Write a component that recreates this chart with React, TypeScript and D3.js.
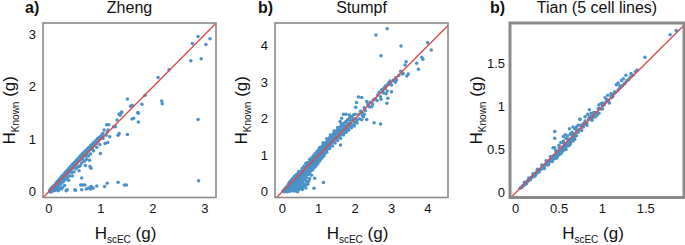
import React from "react";
import * as d3 from "d3";

// ---------- data ----------
const panelLetters = ["a)", "b)", "b)"];
const panelTitles = ["Zheng", "Stumpf", "Tian (5 cell lines)"];

const zhengTicks = [0, 1, 2, 3];
const stumpfTicks = [0, 1, 2, 3, 4];
const tianTicks = [0, 0.5, 1, 1.5];

const zhengDomainX = [-0.115, 3.215];
const zhengDomainY = [-0.11, 3.22];
const stumpfDomainX = [-0.2, 4.55];
const stumpfDomainY = [-0.16, 4.62];
const tianDomainX = [-0.066, 1.94];
const tianDomainY = [-0.056, 1.966];

const zhengPoints: [number, number][] = [
  [2.87, 2.96], [2.76, 2.83], [3.10, 2.92], [3.02, 2.81], [2.73, 2.50], [2.93, 2.54], [2.31, 2.33], [2.10, 2.18],
  [1.85, 1.84], [1.51, 1.77], [1.79, 1.67], [1.71, 1.51], [1.72, 1.33], [2.17, 1.73], [2.18, 1.68], [2.87, 1.38],
  [2.88, 0.21], [1.57, 1.63], [1.60, 1.65], [1.40, 1.52], [1.35, 1.48], [1.37, 1.46], [1.31, 1.37], [1.51, 1.09],
  [1.33, 1.08], [1.35, 1.11], [1.28, 1.24], [1.11, 1.28], [1.14, 1.18], [1.12, 1.14], [1.06, 1.18], [1.04, 1.11],
  [1.10, 1.08], [1.17, 1.05], [1.03, 1.05], [0.99, 0.73], [1.08, 0.92], [1.13, 0.94], [1.60, 1.39], [1.63, 1.40],
  [1.72, 1.50], [1.24, 1.24], [1.15, 1.28], [1.40, 1.51], [1.37, 1.49],
  [0.01, 0.02], [0.02, 0.00], [0.03, 0.05], [0.04, 0.02], [0.05, 0.07], [0.06, 0.03], [0.07, 0.09], [0.08, 0.05],
  [0.09, 0.11], [0.10, 0.07], [0.11, 0.13], [0.12, 0.09], [0.13, 0.15], [0.14, 0.12], [0.15, 0.18], [0.16, 0.14],
  [0.17, 0.20], [0.18, 0.16], [0.19, 0.22], [0.20, 0.18], [0.21, 0.25], [0.22, 0.21], [0.23, 0.27], [0.24, 0.23],
  [0.25, 0.30], [0.26, 0.25], [0.27, 0.31], [0.28, 0.27], [0.29, 0.34], [0.30, 0.30], [0.31, 0.36], [0.32, 0.31],
  [0.33, 0.38], [0.34, 0.33], [0.35, 0.40], [0.36, 0.35], [0.37, 0.43], [0.38, 0.37], [0.39, 0.45], [0.40, 0.40],
  [0.41, 0.47], [0.42, 0.42], [0.43, 0.49], [0.44, 0.44], [0.45, 0.52], [0.46, 0.46], [0.47, 0.54], [0.48, 0.48],
  [0.49, 0.56], [0.50, 0.51], [0.52, 0.59], [0.53, 0.54], [0.55, 0.62], [0.56, 0.57], [0.58, 0.66], [0.59, 0.60],
  [0.61, 0.69], [0.62, 0.63], [0.64, 0.72], [0.65, 0.66], [0.67, 0.75], [0.68, 0.69], [0.70, 0.78], [0.72, 0.73],
  [0.74, 0.82], [0.75, 0.76], [0.77, 0.85], [0.79, 0.80], [0.81, 0.89], [0.83, 0.84], [0.85, 0.93], [0.87, 0.88],
  [0.89, 0.97], [0.91, 0.92], [0.93, 1.01], [0.95, 0.97], [0.97, 1.04], [1.00, 1.06], [1.02, 1.09], [1.04, 1.02],
  [0.10, 0.03], [0.15, 0.08], [0.18, 0.10], [0.22, 0.14], [0.25, 0.17], [0.28, 0.20], [0.32, 0.24], [0.35, 0.27],
  [0.40, 0.30], [0.44, 0.36], [0.48, 0.38], [0.52, 0.44], [0.55, 0.47], [0.60, 0.50], [0.63, 0.55], [0.68, 0.58],
  [0.72, 0.62], [0.76, 0.68], [0.80, 0.72], [0.86, 0.78], [0.92, 0.85], [0.98, 0.90], [0.58, 0.40], [0.45, 0.30],
  [0.70, 0.50], [0.78, 0.60], [0.38, 0.22], [0.30, 0.12], [0.26, 0.08], [0.20, 0.05],
  [0.12, 0.03], [0.15, 0.04], [0.18, 0.02], [0.21, 0.07], [0.24, 0.05], [0.33, 0.02], [0.35, 0.04], [0.50, 0.04],
  [0.51, 0.03], [0.61, 0.13], [0.63, 0.04], [0.63, 0.26], [0.65, 0.13], [0.69, 0.13], [0.72, 0.05], [0.76, 0.07],
  [0.80, 0.05], [0.81, 0.10], [0.83, 0.07], [0.85, 0.07], [0.92, 0.11], [1.07, 0.10], [1.12, 0.16], [1.33, 0.18],
  [1.45, 0.13], [1.49, 0.13], [0.58, 0.48], [0.79, 0.48], [0.81, 0.45], [0.05, 0.00], [0.08, 0.02], [0.03, 0.00],
  [0.06, 0.01],
  [0.05, 0.04], [0.10, 0.12], [0.15, 0.15], [0.20, 0.23], [0.25, 0.26], [0.30, 0.33], [0.35, 0.37], [0.40, 0.44],
  [0.45, 0.48], [0.50, 0.55], [0.55, 0.58], [0.60, 0.65], [0.65, 0.70], [0.70, 0.74], [0.75, 0.80], [0.80, 0.85],
  [0.85, 0.89], [0.90, 0.95], [0.95, 1.00], [1.00, 1.02], [0.64, 0.62], [0.72, 0.68], [0.84, 0.80],
];

const stumpfPoints: [number, number][] = [
  [0.02, 0.01], [0.04, 0.03], [0.05, 0.00], [0.06, 0.05], [0.07, 0.02], [0.08, 0.08], [0.09, 0.04], [0.10, 0.01],
  [0.10, 0.10], [0.11, 0.06], [0.12, 0.13], [0.12, 0.03], [0.13, 0.09], [0.14, 0.15], [0.14, 0.00], [0.15, 0.06],
  [0.16, 0.12], [0.16, 0.18], [0.17, 0.02], [0.18, 0.09], [0.18, 0.22], [0.19, 0.15], [0.20, 0.05], [0.20, 0.26],
  [0.21, 0.11], [0.22, 0.19], [0.22, 0.01], [0.23, 0.28], [0.24, 0.08], [0.24, 0.15], [0.25, 0.22], [0.25, 0.32],
  [0.26, 0.03], [0.27, 0.12], [0.27, 0.27], [0.28, 0.18], [0.28, 0.35], [0.29, 0.07], [0.30, 0.24], [0.30, 0.30],
  [0.31, 0.14], [0.31, 0.38], [0.32, 0.02], [0.33, 0.20], [0.33, 0.33], [0.34, 0.10], [0.34, 0.42], [0.35, 0.27],
  [0.36, 0.16], [0.36, 0.37], [0.37, 0.05], [0.38, 0.22], [0.38, 0.45], [0.39, 0.31], [0.40, 0.12], [0.40, 0.40],
  [0.41, 0.26], [0.42, 0.48], [0.42, 0.18], [0.43, 0.35], [0.44, 0.08], [0.44, 0.43], [0.45, 0.29], [0.46, 0.51],
  [0.46, 0.21], [0.47, 0.38], [0.48, 0.14], [0.48, 0.46], [0.49, 0.32], [0.50, 0.55], [0.50, 0.25], [0.51, 0.42],
  [0.52, 0.18], [0.52, 0.50], [0.53, 0.35], [0.54, 0.58], [0.55, 0.28], [0.55, 0.46], [0.56, 0.12], [0.57, 0.53],
  [0.58, 0.38], [0.58, 0.62], [0.59, 0.22], [0.60, 0.48], [0.61, 0.57], [0.62, 0.32], [0.62, 0.66], [0.63, 0.44],
  [0.64, 0.18], [0.65, 0.60], [0.65, 0.52], [0.66, 0.70], [0.67, 0.38], [0.68, 0.64], [0.69, 0.27], [0.69, 0.56],
  [0.70, 0.74], [0.71, 0.47], [0.72, 0.68], [0.73, 0.60], [0.74, 0.78], [0.75, 0.36], [0.75, 0.52], [0.76, 0.72],
  [0.77, 0.64], [0.78, 0.82], [0.79, 0.57], [0.80, 0.76], [0.80, 0.45], [0.81, 0.86], [0.82, 0.68], [0.83, 0.79],
  [0.84, 0.60], [0.85, 0.90], [0.86, 0.73], [0.87, 0.84], [0.88, 0.66], [0.89, 0.94], [0.90, 0.78], [0.91, 0.88],
  [0.92, 0.70], [0.93, 0.98], [0.94, 0.83], [0.95, 0.92], [0.96, 1.02], [0.97, 0.76], [0.98, 0.88], [0.99, 0.96],
  [1.00, 1.06], [1.01, 0.82], [1.02, 0.93], [1.03, 1.01], [1.04, 1.10], [1.05, 0.88], [1.06, 0.98], [1.07, 1.14],
  [1.08, 1.05], [1.09, 0.92], [1.10, 1.18], [1.11, 1.02], [1.12, 1.10], [1.13, 1.22], [1.14, 0.98], [1.15, 1.14],
  [1.16, 1.25], [1.17, 1.06], [1.18, 1.19], [1.19, 1.29], [1.20, 1.10], [1.21, 1.22], [1.22, 1.32], [1.23, 1.15],
  [1.24, 1.26], [1.25, 1.36], [1.26, 1.20], [1.27, 1.30], [1.28, 1.40], [1.29, 1.24], [1.30, 1.34], [1.31, 1.43],
  [1.32, 1.28], [1.33, 1.37], [1.34, 1.46], [1.35, 1.32], [1.36, 1.41], [1.37, 1.50], [1.38, 1.36], [1.40, 1.45],
  [1.41, 1.53], [1.42, 1.40], [1.44, 1.49], [1.45, 1.57], [1.46, 1.44], [1.48, 1.53], [1.50, 1.60], [1.51, 1.48],
  [1.53, 1.57], [1.55, 1.64], [1.56, 1.52], [1.58, 1.61], [1.60, 1.68], [1.62, 1.56], [1.64, 1.66], [1.66, 1.72],
  [1.68, 1.60], [1.70, 1.70], [1.72, 1.77], [1.74, 1.65], [1.76, 1.74], [1.78, 1.82], [1.80, 1.70], [1.83, 1.79],
  [1.85, 1.88], [1.88, 1.76], [1.90, 1.84], [1.93, 1.95], [1.96, 1.82], [1.99, 1.90], [2.02, 2.00], [2.05, 1.88],
  [1.13, 0.25], [0.87, 0.09], [0.89, 0.37], [0.67, 0.27], [0.73, 0.29], [1.60, 1.28],
  [0.45, 0.05], [0.50, 0.10], [0.55, 0.06], [0.60, 0.15], [0.65, 0.10], [0.70, 0.20], [0.38, 0.02], [0.42, 0.00],
  [1.68, 2.12], [1.75, 2.12], [1.84, 2.10], [1.63, 2.01], [1.59, 1.92], [1.72, 1.80], [1.81, 1.87], [1.86, 1.96],
  [1.95, 2.00], [2.23, 2.05], [2.18, 1.97], [2.32, 1.98], [2.18, 2.58], [2.09, 2.59], [2.04, 2.44], [2.02, 2.31],
  [2.32, 2.47], [2.36, 2.35], [2.50, 2.51], [2.46, 2.33], [2.52, 1.89], [2.70, 1.85],
  [2.10, 2.12], [2.15, 2.20], [2.20, 2.15], [2.25, 2.30], [2.28, 2.22], [2.35, 2.40], [2.40, 2.32], [2.42, 2.45],
  [2.48, 2.40], [2.55, 2.55], [2.60, 2.50], [2.62, 2.65], [2.66, 2.72], [2.70, 2.60], [2.75, 2.78], [2.78, 2.70],
  [2.80, 2.85], [2.84, 2.90], [2.88, 2.76], [2.92, 2.94], [2.95, 3.00], [3.00, 2.92], [3.05, 3.05], [3.10, 3.00],
  [3.12, 3.12], [3.20, 3.18], [3.25, 3.30], [3.30, 3.22], [2.96, 3.03], [2.91, 2.97], [2.82, 2.83], [2.73, 2.79],
  [2.77, 2.71], [3.00, 2.74], [2.85, 2.68], [2.90, 2.56], [2.71, 2.53], [2.87, 2.42],
  [2.88, 4.46], [2.57, 4.29], [2.71, 3.72], [3.26, 3.99], [3.99, 4.08], [4.09, 3.88], [3.83, 3.68], [3.86, 3.63],
  [3.69, 3.52], [3.74, 3.35], [3.40, 3.56], [3.37, 3.47], [3.46, 3.22], [3.42, 3.17], [3.32, 3.24], [3.14, 3.06],
  [0.85, 0.98], [0.90, 1.04], [0.95, 1.10], [1.00, 1.15], [1.05, 1.20], [1.10, 1.26], [1.15, 1.30], [1.20, 1.35],
  [1.25, 1.42], [1.30, 1.48], [1.35, 1.52], [1.40, 1.58], [1.45, 1.62], [1.50, 1.68], [1.55, 1.72], [1.60, 1.78],
  [1.65, 1.82], [1.70, 1.88], [1.75, 1.92], [1.80, 1.98], [1.85, 2.02], [1.90, 2.05], [1.95, 2.10], [2.00, 2.12],
  [0.92, 0.80], [1.00, 0.90], [1.08, 0.96], [1.15, 1.02], [1.22, 1.08], [1.30, 1.18], [1.38, 1.25], [1.45, 1.33],
  [1.52, 1.40], [1.60, 1.46], [1.68, 1.55], [1.75, 1.62], [1.82, 1.68], [1.90, 1.75], [1.98, 1.80], [2.05, 1.95],
  [2.12, 2.00], [2.20, 2.08], [2.25, 2.12], [1.02, 1.20], [1.12, 1.34], [1.22, 1.45], [1.32, 1.55], [1.42, 1.66],
  [1.52, 1.76], [1.62, 1.86], [0.60, 0.70], [0.70, 0.80], [0.80, 0.92], [0.65, 0.78], [0.75, 0.88], [0.55, 0.64],
  [0.45, 0.55], [0.40, 0.48], [0.35, 0.42], [0.30, 0.36],
];

const tianPoints: [number, number][] = [
  [0.05, 0.05], [0.06, 0.06], [0.07, 0.06], [0.08, 0.08], [0.09, 0.08], [0.10, 0.10], [0.11, 0.10], [0.12, 0.12],
  [0.13, 0.12], [0.14, 0.14], [0.15, 0.14], [0.16, 0.16], [0.17, 0.16], [0.18, 0.18], [0.19, 0.18], [0.20, 0.20],
  [0.21, 0.19], [0.22, 0.22], [0.23, 0.21], [0.24, 0.24], [0.25, 0.23], [0.26, 0.26], [0.27, 0.25], [0.28, 0.27],
  [0.29, 0.27], [0.30, 0.29], [0.31, 0.29], [0.32, 0.31], [0.33, 0.31], [0.34, 0.33], [0.35, 0.33], [0.36, 0.35],
  [0.37, 0.34], [0.38, 0.37], [0.39, 0.36], [0.40, 0.39], [0.41, 0.38], [0.42, 0.41], [0.43, 0.40], [0.44, 0.43],
  [0.45, 0.41], [0.46, 0.45], [0.47, 0.43], [0.48, 0.47], [0.49, 0.45], [0.50, 0.49], [0.51, 0.47], [0.52, 0.51],
  [0.53, 0.49], [0.54, 0.53], [0.55, 0.51], [0.56, 0.55], [0.57, 0.53], [0.58, 0.57], [0.59, 0.55], [0.60, 0.59],
  [0.61, 0.57], [0.62, 0.61], [0.63, 0.59], [0.64, 0.63], [0.65, 0.62], [0.66, 0.65], [0.67, 0.64], [0.68, 0.68],
  [0.69, 0.66], [0.70, 0.70], [0.72, 0.70], [0.73, 0.73], [0.75, 0.74], [0.77, 0.77], [0.78, 0.76], [0.80, 0.80],
  [0.82, 0.81], [0.84, 0.85], [0.86, 0.85], [0.88, 0.89], [0.90, 0.89], [0.92, 0.93], [0.94, 0.93], [0.96, 0.98],
  [0.98, 0.97], [1.00, 1.01], [1.02, 1.02], [1.04, 1.05], [1.07, 1.07], [1.10, 1.12], [1.12, 1.11], [1.15, 1.16],
  [1.18, 1.19], [1.20, 1.21], [1.23, 1.24], [1.26, 1.27], [1.30, 1.31], [1.35, 1.36],
  [0.33, 0.28], [0.38, 0.33], [0.42, 0.37], [0.46, 0.41], [0.50, 0.44], [0.54, 0.48], [0.57, 0.51], [0.60, 0.54],
  [0.63, 0.57], [0.66, 0.60], [0.70, 0.66], [0.44, 0.39], [0.48, 0.42], [0.52, 0.46], [0.56, 0.50],
  [0.45, 0.52], [0.43, 0.52], [0.46, 0.49], [0.45, 0.63], [0.45, 0.71], [0.50, 0.55], [0.52, 0.58], [0.55, 0.60],
  [0.58, 0.63], [0.60, 0.66], [0.62, 0.74], [0.63, 0.68], [0.65, 0.70], [0.68, 0.74], [0.72, 0.78], [0.74, 0.85],
  [0.78, 0.80], [0.85, 0.96], [0.85, 0.87], [0.87, 0.92], [0.90, 0.88], [0.98, 1.03], [0.96, 1.02], [1.03, 1.10],
  [1.06, 1.13], [1.10, 1.15], [1.14, 1.17], [1.16, 1.25], [1.18, 1.27], [1.22, 1.30], [1.24, 1.32], [1.27, 1.36],
  [1.33, 1.38], [1.49, 1.57], [1.78, 1.83], [1.85, 1.88], [0.88, 0.86], [0.92, 0.88], [0.96, 0.92], [0.74, 0.85],
  [0.10, 0.12], [0.15, 0.17], [0.20, 0.22], [0.25, 0.27], [0.30, 0.32], [0.35, 0.37], [0.40, 0.42], [0.12, 0.10],
  [0.17, 0.15], [0.22, 0.19], [0.27, 0.24], [0.32, 0.28], [0.37, 0.32], [0.42, 0.36], [0.47, 0.40], [0.52, 0.45],
  [0.58, 0.50], [0.62, 0.55], [0.68, 0.62], [0.50, 0.52], [0.55, 0.58], [0.60, 0.62], [0.65, 0.67], [0.70, 0.73],
  [0.75, 0.78], [0.80, 0.83], [0.85, 0.88], [0.90, 0.93], [0.95, 0.97], [1.00, 1.04], [1.05, 1.08], [1.10, 1.10],
  [0.76, 0.72], [0.82, 0.78], [0.88, 0.84], [0.94, 0.90], [1.00, 0.97], [1.08, 1.04], [1.12, 1.14], [1.20, 1.24],
  [1.25, 1.26], [1.28, 1.30], [1.32, 1.34], [1.38, 1.40], [1.40, 1.42], [0.55, 0.65], [0.57, 0.67], [0.66, 0.76],
  [0.70, 0.76], [0.80, 0.88], [0.83, 0.91],
];

// ---------- layout ----------
const W = 685;
const H = 245;
const FONT = "'Liberation Sans', Arial, Helvetica, sans-serif";
const DOT = "#4a92c8";
const RED = "#dd4b4b";
const FRAME = "#8a8a8a";

const panels = [
  { letter: panelLetters[0], title: panelTitles[0], points: zhengPoints, ticks: zhengTicks, dx: zhengDomainX, dy: zhengDomainY, x0: 43, x1: 216, sw: 1.6, letterX: 25 },
  { letter: panelLetters[1], title: panelTitles[1], points: stumpfPoints, ticks: stumpfTicks, dx: stumpfDomainX, dy: stumpfDomainY, x0: 275, x1: 448, sw: 1.6, letterX: 258 },
  { letter: panelLetters[2], title: panelTitles[2], points: tianPoints, ticks: tianTicks, dx: tianDomainX, dy: tianDomainY, x0: 510, x1: 684, sw: 3, letterX: 490 },
];
const Y0 = 23;
const Y1 = 197.5;

function Panel({ p, i }: { p: typeof panels[number]; i: number }) {
  const x = d3.scaleLinear().domain(p.dx).range([p.x0, p.x1]);
  const y = d3.scaleLinear().domain(p.dy).range([Y1, Y0]);
  const lo = Math.min(p.dx[0], p.dy[0]);
  const hi = Math.max(p.dx[1], p.dy[1]);
  const line = d3.line<number>().x((v) => x(v)).y((v) => y(v));
  const cx = (p.x0 + p.x1) / 2;
  const cy = (Y0 + Y1) / 2;
  const fmt = (v: number) => String(v);
  return (
    <g>
      <defs>
        <clipPath id={`clip${i}`}>
          <rect x={p.x0} y={Y0} width={p.x1 - p.x0} height={Y1 - Y0} />
        </clipPath>
      </defs>
      <g clipPath={`url(#clip${i})`}>
        {p.points.map((d, k) => (
          <circle key={k} cx={x(d[0])} cy={y(d[1])} r={1.75} fill={DOT} />
        ))}
        <path d={line([lo, hi]) || ""} stroke={RED} strokeWidth={1.4} fill="none" />
      </g>
      <rect x={p.x0} y={Y0} width={p.x1 - p.x0} height={Y1 - Y0} fill="none" stroke={FRAME} strokeWidth={p.sw} />
      {p.ticks.map((t) => (
        <text key={`x${t}`} x={x(t)} y={213} textAnchor="middle" fontSize={13} fontFamily={FONT} fill="#111">
          {fmt(t)}
        </text>
      ))}
      {p.ticks.map((t) => (
        <text key={`y${t}`} x={p.x0 - (i === 2 ? 5 : 7)} y={y(t) + 4.5} textAnchor="end" fontSize={13} fontFamily={FONT} fill="#111">
          {fmt(t)}
        </text>
      ))}
      <text x={p.letterX} y={13} fontSize={16} fontWeight="bold" fontFamily={FONT} fill="#111">
        {p.letter}
      </text>
      <text x={cx} y={13} textAnchor="middle" fontSize={16} fontFamily={FONT} fill="#111">
        {p.title}
      </text>
      <text x={cx - 4} y={239} textAnchor="middle" fontFamily={FONT} fill="#111" fontSize={17}>
        H
        <tspan fontSize={10} dy={4}>scEC</tspan>
        <tspan fontSize={17} dy={-4}> (g)</tspan>
      </text>
      <text transform={`translate(${p.x0 - 28},${cy}) rotate(-90)`} textAnchor="middle" fontFamily={FONT} fill="#111" fontSize={17}>
        H
        <tspan fontSize={10} dy={4}>Known</tspan>
        <tspan fontSize={17} dy={-4}> (g)</tspan>
      </text>
    </g>
  );
}

export default function App() {
  return (
    <svg width={W} height={H} style={{ position: "absolute", left: 0, top: 0, background: "#fff" }}>
      <rect width={W} height={H} fill="#fff" />
      {panels.map((p, i) => (
        <Panel key={i} p={p} i={i} />
      ))}
    </svg>
  );
}
